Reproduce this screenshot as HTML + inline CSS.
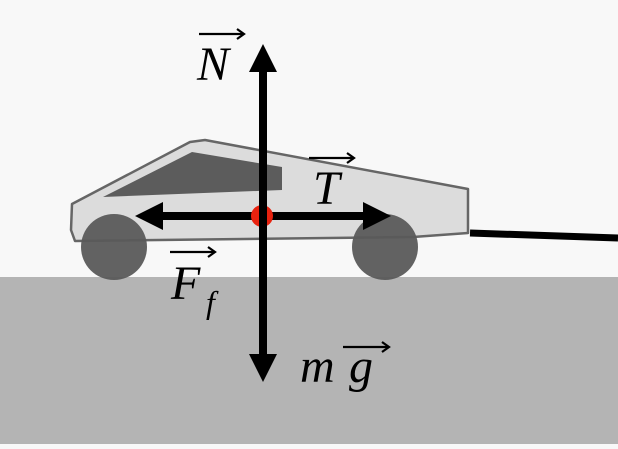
<!DOCTYPE html>
<html><head><style>body{margin:0;width:618px;height:444px;overflow:hidden;background:#f8f8f8}</style></head><body>
<svg width="618" height="444" viewBox="0 0 618 444" xmlns="http://www.w3.org/2000/svg">
<rect x="0" y="0" width="618" height="444" fill="#f8f8f8"/>
<rect x="0" y="277" width="618" height="167" fill="#b4b4b4"/>
<path d="M72,204 L190,142 L205,140 L468,189 L468,233 L413,237 L75,241 L71,230 Z" fill="#dcdcdc" stroke="#666" stroke-width="2.5" stroke-linejoin="round"/>
<path d="M103,197 L192,152 L282,167 L282,190 Z" fill="#5c5c5c"/>
<circle cx="114" cy="247" r="33" fill="#5a5a5a" fill-opacity="0.95"/>
<circle cx="385" cy="247" r="33" fill="#5a5a5a" fill-opacity="0.95"/>
<line x1="470" y1="233" x2="618" y2="238" stroke="#000" stroke-width="7"/>
<line x1="160" y1="216" x2="370" y2="216" stroke="#000" stroke-width="8"/>
<polygon points="135,216 163,202 163,230" fill="#000"/>
<polygon points="391,216 363,202 363,230" fill="#000"/>
<circle cx="262" cy="216" r="11" fill="#e8220f"/>
<line x1="263" y1="68" x2="263" y2="358" stroke="#000" stroke-width="8"/>
<polygon points="263,44 249,72 277,72" fill="#000"/>
<polygon points="263,382 249,354 277,354" fill="#000"/>
<g font-family="Liberation Serif, serif" font-style="italic" fill="#000">
<text x="197" y="80" font-size="48">N</text>
<text x="313" y="204" font-size="48">T</text>
<text x="171" y="299" font-size="48">F</text>
<text x="206" y="313" font-size="32">f</text>
<text x="300" y="382" font-size="48">m</text>
<text x="349" y="382" font-size="48">g</text>
</g>
<g stroke="#000" stroke-width="2.2" fill="none">
<line x1="199" y1="34" x2="243" y2="34"/><path d="M237,29 L244,34 L237,39"/>
<line x1="309" y1="158" x2="353" y2="158"/><path d="M347,153 L354,158 L347,163"/>
<line x1="170" y1="252" x2="214" y2="252"/><path d="M208,247 L215,252 L208,257"/>
<line x1="343" y1="347" x2="388" y2="347"/><path d="M382,342 L389,347 L382,352"/>
</g>
</svg>
</body></html>
